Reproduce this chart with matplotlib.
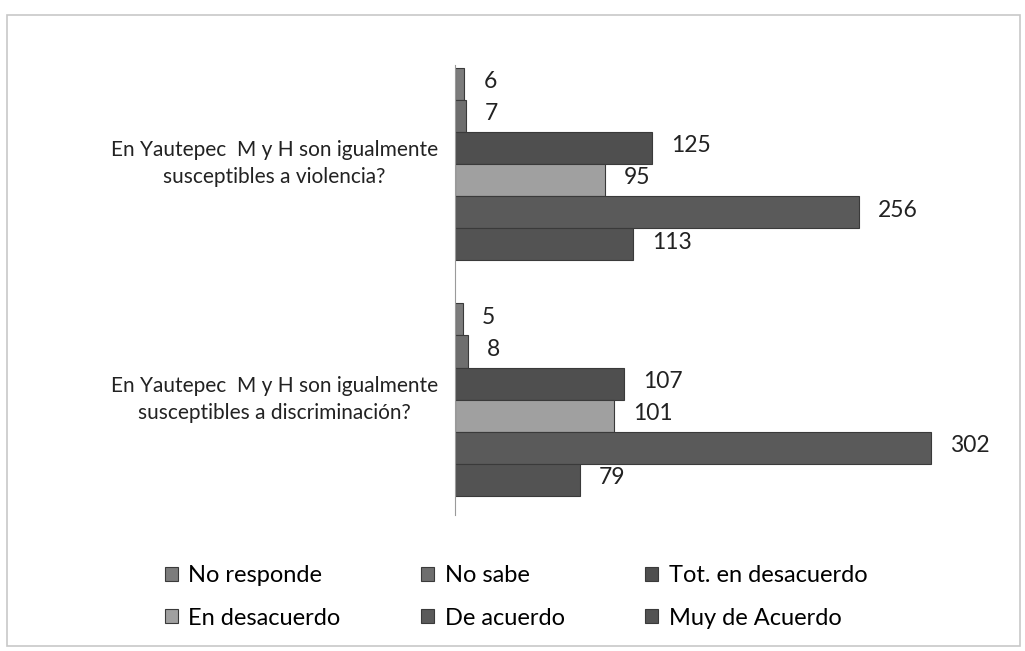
import matplotlib
matplotlib.use("Agg")
import matplotlib.pyplot as plt
from matplotlib.patches import Rectangle
from matplotlib.transforms import ScaledTranslation
import numpy as np

categories = ["En Yautepec  M y H son igualmente\nsusceptibles a violencia?",
              "En Yautepec  M y H son igualmente\nsusceptibles a discriminación?"]
series = ["No responde", "No sabe", "Tot. en desacuerdo",
          "En desacuerdo", "De acuerdo", "Muy de Acuerdo"]
values = {
    "No responde": [6, 5],
    "No sabe": [7, 8],
    "Tot. en desacuerdo": [125, 107],
    "En desacuerdo": [95, 101],
    "De acuerdo": [256, 302],
    "Muy de Acuerdo": [113, 79],
}
colors = ["#7c7c7c", "#6e6e6e", "#4f4f4f", "#a0a0a0", "#5a5a5a", "#535353"]

plt.rcParams['font.family'] = ['Lato', 'DejaVu Sans']
FS_TICK = 15
FS_LAB = 16.5
FS_LEG = 17

fig = plt.figure(figsize=(10.25, 6.51), dpi=100)
fig.patches.append(Rectangle((7/1025, 1-646/651), 1013/1025, 631/651,
                             transform=fig.transFigure, fill=False,
                             edgecolor="#c8c8c8", lw=1.2))
ax = fig.add_axes([455/1025, 1-515/651, (1010-455)/1025, 450/651])

h = 0.136
n = len(series)
ypos = np.arange(len(categories))
handles = []
for i, (s, c) in enumerate(zip(series, colors)):
    off = (i - (n - 1) / 2) * h
    b = ax.barh(ypos + off, values[s], height=h, color=c,
                edgecolor="#3a3a3a", linewidth=0.8, label=s)
    handles.append(b)
    for y, v in zip(ypos + off, values[s]):
        ax.annotate(str(v), (v, y), xytext=(19, 2), textcoords="offset pixels",
                    va="center", ha="left", fontsize=FS_LAB, color="#222222")

ax.set_xlim(0, 352)
ax.set_ylim(1.49, -0.42)
ax.set_yticks(ypos)
ax.set_yticklabels(categories, fontsize=FS_TICK, ha="center", color="#222222",
                   linespacing=1.45)
ax.tick_params(axis="y", length=0, pad=130)
for lbl in ax.get_yticklabels():
    lbl.set_transform(lbl.get_transform() +
                      ScaledTranslation(0, 6/100, fig.dpi_scale_trans))
ax.set_xticks([])
for sp in ["top", "right", "bottom"]:
    ax.spines[sp].set_visible(False)
ax.spines["left"].set_color("#9a9a9a")

order = [0, 3, 1, 4, 2, 5]
fig.legend([handles[k] for k in order], [series[k] for k in order],
           ncol=3, loc="center", bbox_to_anchor=(516/1025, 1-597/651),
           frameon=False, fontsize=FS_LEG, handlelength=0.55, handleheight=0.55,
           handletextpad=0.45, columnspacing=3.4, labelspacing=0.9)

fig.savefig("out.png", dpi=100)
